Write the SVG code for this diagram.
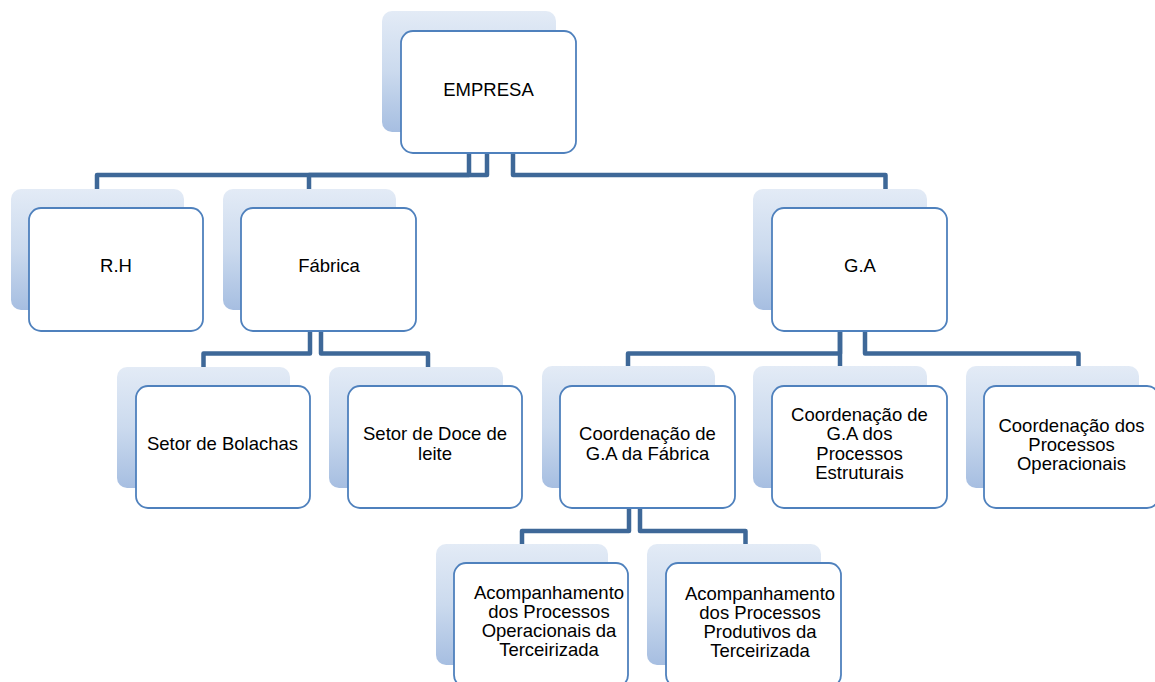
<svg xmlns="http://www.w3.org/2000/svg" width="1155" height="682" viewBox="0 0 1155 682">
<defs>
<linearGradient id="g" x1="0" y1="0" x2="0" y2="1">
<stop offset="0" stop-color="#E3EBF6"/>
<stop offset="0.5" stop-color="#CBDAEE"/>
<stop offset="1" stop-color="#A6BEE1"/>
</linearGradient>
<style>
.bk{fill:url(#g);stroke:none}
.fr{fill:#FFFFFF;stroke:#4F81BD;stroke-width:1.8}
.t{font-family:"Liberation Sans",Arial,sans-serif;font-size:18.5px;fill:#000;text-anchor:middle}
.c{fill:none;stroke:#3E6898;stroke-width:4.5;stroke-linejoin:round}
</style>
</defs>
<rect width="1155" height="682" fill="#FFFFFF"/>
<g id="connectors">
<path class="c" d="M469,153 V175 H97 V190"/>
<path class="c" d="M487,153 V175 H309 V190"/>
<path class="c" d="M513,153 V175 H885.5 V190"/>
<path class="c" d="M310,331 V353.5 H203.5 V368"/>
<path class="c" d="M321,331 V353.5 H428 V368"/>
<path class="c" d="M840,331 V353.5 H628 V367"/>
<path class="c" d="M840,331 V367"/>
<path class="c" d="M865,331 V353.5 H1078.5 V367"/>
<path class="c" d="M629,508 V531 H522 V545"/>
<path class="c" d="M640,508 V531 H745.5 V545"/>
</g>
<g id="empresa">
<rect class="bk" x="382" y="11" width="174" height="121" rx="10"/>
<rect class="fr" x="401" y="31" width="175" height="122" rx="12"/>
<text class="t" x="488.5" y="95.5">EMPRESA</text>
</g>
<g id="rh">
<rect class="bk" x="11" y="189" width="173" height="121" rx="10"/>
<rect class="fr" x="29" y="208" width="174" height="123" rx="12"/>
<text class="t" x="116" y="272">R.H</text>
</g>
<g id="fabrica">
<rect class="bk" x="223" y="189" width="173" height="121" rx="10"/>
<rect class="fr" x="241" y="208" width="175" height="123" rx="12"/>
<text class="t" x="329" y="272">Fábrica</text>
</g>
<g id="ga">
<rect class="bk" x="753" y="189" width="174" height="121" rx="10"/>
<rect class="fr" x="772" y="208" width="175" height="123" rx="12"/>
<text class="t" x="860" y="272">G.A</text>
</g>
<g id="bolachas">
<rect class="bk" x="117" y="367" width="173" height="121" rx="10"/>
<rect class="fr" x="136" y="386" width="174" height="122" rx="12"/>
<text class="t" x="222.5" y="449.5">Setor de Bolachas</text>
</g>
<g id="doce">
<rect class="bk" x="329" y="367" width="174" height="121" rx="10"/>
<rect class="fr" x="348" y="386" width="174" height="122" rx="12"/>
<text class="t" x="435" y="439.5">Setor de Doce de</text>
<text class="t" x="435" y="459.5">leite</text>
</g>
<g id="coord-fabrica">
<rect class="bk" x="542" y="366" width="173" height="122" rx="10"/>
<rect class="fr" x="560" y="386" width="175" height="122" rx="12"/>
<text class="t" x="647.5" y="440">Coordenação de</text>
<text class="t" x="647.5" y="459.5">G.A da Fábrica</text>
</g>
<g id="coord-estruturais">
<rect class="bk" x="753" y="366" width="174" height="122" rx="10"/>
<rect class="fr" x="772" y="386" width="175" height="122" rx="12"/>
<text class="t" x="859.5" y="421">Coordenação de</text>
<text class="t" x="859.5" y="440">G.A dos</text>
<text class="t" x="859.5" y="459.5">Processos</text>
<text class="t" x="859.5" y="478.5">Estruturais</text>
</g>
<g id="coord-operacionais">
<rect class="bk" x="966" y="366" width="173" height="122" rx="10"/>
<rect class="fr" x="984" y="386" width="175" height="122" rx="12"/>
<text class="t" x="1071.5" y="431.5">Coordenação dos</text>
<text class="t" x="1071.5" y="450.5">Processos</text>
<text class="t" x="1071.5" y="469.5">Operacionais</text>
</g>
<g id="acomp-operacionais">
<rect class="bk" x="436" y="544" width="172" height="121" rx="10"/>
<rect class="fr" x="454" y="563" width="174" height="124" rx="12"/>
<text class="t" x="549" y="599">Acompanhamento</text>
<text class="t" x="549" y="618">dos Processos</text>
<text class="t" x="549" y="637">Operacionais da</text>
<text class="t" x="549" y="656">Terceirizada</text>
</g>
<g id="acomp-produtivos">
<rect class="bk" x="647" y="544" width="174" height="121" rx="10"/>
<rect class="fr" x="666" y="563" width="175" height="124" rx="12"/>
<text class="t" x="760" y="600">Acompanhamento</text>
<text class="t" x="760" y="619">dos Processos</text>
<text class="t" x="760" y="638">Produtivos da</text>
<text class="t" x="760" y="657">Terceirizada</text>
</g>
</svg>
